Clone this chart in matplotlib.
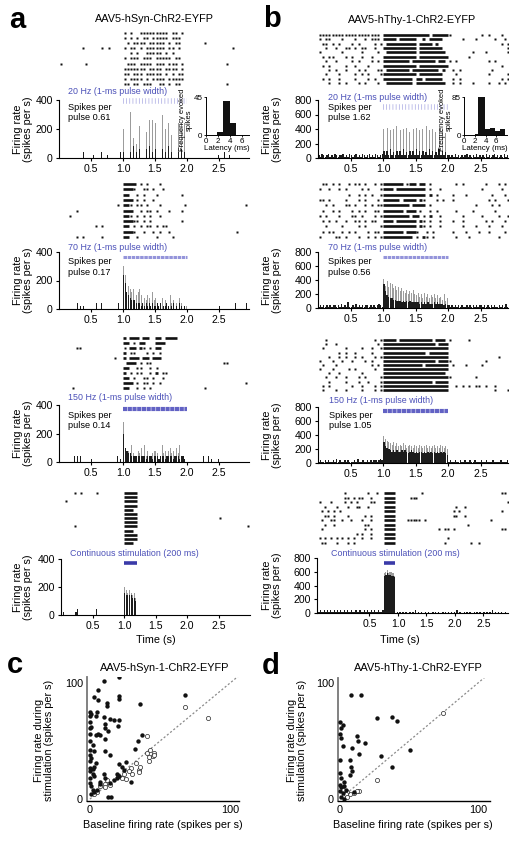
import matplotlib
matplotlib.use("Agg")
import matplotlib.pyplot as plt

plt.rcParams['font.family'] = ['Liberation Sans', 'DejaVu Sans']
plt.rcParams['lines.scale_dashes'] = False

# ======================= DATA =======================
# Raster rows: "pre|stim|post" segments, 0.05-s bins ('*' = spike, '=' = dense burst, '.' = none)
raster_a1 = [
    ".......... ..........|*.*..***** ****.**.*.|.......... ..........",
    ".......... ..........|*.*.*.**.* ****.***..|.......... ..........",
    ".......... ..........|.*.****.** ***.*.**..|.....*.... ..........",
    ".......*.. ...*.*....|*.**.*.*** ***.**.*..|.......... ....*.....",
    ".......... ..........|..*.*..*** **.*.*....|.......... ..........",
    ".......... ..........|*.***.***. *****.**..|.......... ..........",
    "*.......*. ..........|.***.****. ***.***.*.|.......... ..*.......",
    ".......... ..........|*******.** **.****.*.|.......... ..........",
    ".......... ..........|**.***.*** **.*.*.**.|.......... ..........",
    ".......... ..........|*.****.*.* ***.*****.|.......... ..........",
    ".......... ..........|**.**.***. .**.*.**..|.......... ..*.......",
]
raster_a2 = [
    ".......... ..........|====.*.*.. .*........|.......... ..........",
    ".......... ..........|===*..**.* ..*.......|.......... ..........",
    ".......... ..........|==..*.*... *.......*.|.......... ..........",
    ".......... ..........|===.*.*..* ..........|.......... ..........",
    ".......... ........*.|==*.**.*.. .*.......*|.......... ........*.",
    ".....*.... ..........|===..*.**. *...*...*.|.......... ..........",
    "...*...... ..........|==*.*.*.*. .*........|.......... ..........",
    ".......... ..........|===**.*.*. ........*.|.......... ..........",
    ".......... .*.*......|==.*.*.**. *.**......|.......... ..........",
    ".......... ..........|===*..*..* .*..*.....|.......... .....*....",
    ".....*.*.. ...*......|==..*..... *....*....|.......... ..........",
]
raster_a3 = [
    ".......... ..........|=.===.==.. ==.====...|.......... ..........",
    ".......... ..........|==.*.==... ===.......|.......... ..........",
    ".....**... ..........|*.==.=*.*. ==........|.......... ..........",
    ".......... ..........|=.**...*.* .*........|.......... ..........",
    ".......... .......*..|=.===.==.= ==........|.......... ..........",
    ".......... ..........|.===.*.**. ..........|.......... .**.......",
    ".......... ..........|==..**..*. *.........|.......... ..........",
    ".......... ..........|=.*.**..*. =.**......|.......... ..........",
    ".......... ..........|==.*..**.* ..*.......|.......... ..........",
    ".......... ..........|===.*.**.* .*........|.......... ........*.",
    "....*..... ..........|==..*.*.*. ..........|.....*.... ..........",
]
raster_a4 = [
    "....*.*... .*........|====|.......... .......... .......... ......",
    ".......... ..........|====|.......... .......... .......... ......",
    ".*........ ..........|====|.......... .......... .......... ......",
    ".......... ..........|====|.......... .......... .......... ......",
    ".......... ..........|===.|.......... .......... .......... ......",
    ".......... ..........|====|.......... .......... .......... ......",
    ".......... ..........|====|.......... .......... ......*... ......",
    ".......... ..........|====|.......... .......... .......... ......",
    "....*..... ..........|====|.......... .......... .......... .....*",
    ".......... ..........|===.|.......... .......... .......... ......",
    ".......... ..........|====|.......... .......... .......... ......",
    ".......... ..........|====|.......... .......... .......... ......",
    ".......... ..........|===.|.......... .......... .......... ......",
]
raster_b1 = [
    "********** *********.|========== ====.=====|*......... *.*...*...",
    "*.**...*.. .*..*.***.|====.===== ..=.====..|....*...*. ....*..*..",
    ".**.*.*... *.*....*.*|.========= .====.=...|.......... ......*.**",
    "..*..*..** .*.**..*..|========== .=======..|.......... ........*.",
    "*......*.. ...*....*.|.========= .========.|.......*.. .*......*.",
    ".*.**...*. *..*..*...|========== .=========|......*... ..........",
    "..*..*.... *.*...*.*.|========.= ======.==.|*.*....... ..*.*.....",
    ".*.*....*. .*...*....|========== .=========|.......... ......*..*",
    "...*.*..*. ..*.*...**|.=======.= =======.=.|.*.*...... ...*......",
    "..*...*... .*.*.*...*|========== .=======..|..*....... ..*.....*.",
    ".*.*..*... .*...*.*..|=========. ==.=====..|.*.*...... ......*.*.",
    "...*..*.*. ..*.*...*.|.========. =========.|.*.*...*.. ..*..*.*..",
]
raster_b2 = [
    ".**.*.*..* .**.*..*.*|======.*== .==.*.....|..*.*..... .*...*.*.*",
    "*..*..*.*. ...*.*...*|===.====== ===.*..*..|.......... *.....*...",
    ".........* ..*.*.*..*|========== ===.=.*...|.*...*.... ...*...*.*",
    "**.*....*. ..*.*...*.|=====.==== .=*...*.*.|.*........ ..*.*...**",
    "..*.*...** .*..*.*.**|========.= ===.*.....|........*. ...*.*....",
    ".*..*.*... *.*.*..**.|======.=== .*..*.*...|..*....*.. ....*.....",
    "*.*...*... **.*...*.*|========.= =.*.=..*..|....*..... *....*..*.",
    ".*.*.*..*. .**.*.**..|===.====== .=*.*..*..|.*..*..... .*.*...*..",
    "..*....*.. ..*.*....*|==========.=*.*..*...|....*...*. ..*...*...",
    ".*.**..*.* .*...*.**.|======.=== *..*.*....|.*...*...* ..*....*..",
    "*....**.*. ..*..*.*.*|=========. *.=*.*....|..*...*... .....*...*",
]
raster_b3 = [
    "..*....... .......*.*|====.===== =====.===.|*.....*... ..........",
    "..*..*.... ........*.|========== ======.===|.......... ..........",
    ".*......*. ...*..*..*|========== ==========|.......... ..........",
    "......*.*. .*....*...|========== ===.======|.......... ..........",
    "...*..*.*. .*.*...*.*|========== ==========|.......... .....*....",
    "*...*..*.. *...*.*...|========== ======.===|*......... .*........",
    ".*...*.... ......*.*.|========== ==.=======|.*...*.... *.........",
    "*...*....* .*.....*..|========== ==========|.......... ..........",
    "...*..*... ...*......|========== =========.|.......... ..........",
    "..*..*..*. ..*.*....*|========== ==========|*.......*. ..........",
    "...*....*. ..*..*...*|========== =====.====|.......... ..........",
    ".*.*...... *..*...*.*|========== ==========|..*.*.*.** .*..*.....",
    ".*...*..*. ...*...*.*|========== ==========|.......... ....*...*.",
]
raster_b4 = [
    ".......... *.......*. .*..|====|.........* .......... .......... .......**.",
    ".......... **.*.**..* ....|====|.....***.. .......... .......... ..........",
    ".*...*.... *.*.*....* *...|====|.......... .......... .......... .........*",
    "...*...*.. .*..**..*. ....|====|.......... .......... .*..*..... ..........",
    "..*.*.*.*. .......... ....|====|.......... .......... *.*....... .......*..",
    "...**.*... .*.....*.* ....|====|.......... .......... **..*..... ..........",
    "..*..**..* ..*...*..* ....|====|....*****. *......... .......... ...*......",
    "...*..*... .......**. ....|====|.......... .......... .....*.... ..........",
    "..*....... .......*.* ....|====|.......... .....*.**. *......... .......**.",
    ".......... ....*.*..* ....|====|.......... .......... .......... ..........",
    ".*.*.*.*.* .*.*..*..* ....|====|.......... ........*. .......... ..........",
    "..**...*.. .*.*...... ....|====|.......... .......*.. ......*..* ..........",
]

# PSTHs: "pre|stim|post", 0.025-s bins, base-36 digit x 20 spikes per s
hist_a1_grey = "|a0e0g07050 b0a090d0d0 c0d0f0a0c0 80b0c0c0c0|"
hist_a1_black = ("0000000000 0000020000 0100002000 1000000020|"
                 "2030204020 3020304020 3020302040 2030203020|"
                 "0000000000 0010000001 0002001000 0000000000")
hist_a2_grey = "|fca8767a56 7564354363 4032403205 2302042301|"
hist_a2_black = ("0000000200 0201010000 0012002000 0000000200|"
                 "c965433322 2121212121 1212011210 1201021010|"
                 "0000000000 0000000000 1000000000 2000000200")
hist_a3_grey = "|e574363524 3536242534 4352634245 3425362410|"
hist_a3_black = ("0000000002 0202000000 1000000000 0000002010|"
                 "a543322222 2222122212 2212221222 2122212210|"
                 "0000000000 2002010001 0000000000 0000000000")
hist_a4_grey = "|a9898786|"
hist_a4_black = ("0100000001 2000000000 0020000000 0000000000|"
                 "87777665|")
hist_b1_grey = "|k0l0j0k0m0 j0k0l0i0k0 l0j0k0m0j0 k0i0l0j0h0|"
hist_b1_black = ("2132123121 3212231213 2123121321 2312132123|"
                 "5252624252 5262425252 6252524262 5242625242|"
                 "2121312121 2312121312 1213121231 2121312121")
hist_b2_grey = "|lgjfihegdf cecbdacbda 9b8a7b8a79 8a79786a57|"
hist_b2_black = ("1212121212 2121312141 1213121212 2121212321|"
                 "hc98776655 5454545444 4434343433 3434333232|"
                 "2121212121 1212121212 2121212121 1212131212")
hist_b3_grey = "|jhgfedfcec dcedbcdcbd cbdcbcdbcb cdbcbdcbca|"
hist_b3_black = ("1211212112 1312112121 1121311211 2121221232|"
                 "fcba989898 8989878987 8788787878 7878787876|"
                 "1211211211 2112112111 2112111211 1121112111")
hist_b4_grey = "|tuvtuutr|"
hist_b4_black = ("1212112121 2112121211 2121121121 1211212112 12112112|"
                 "rstssrrq|"
                 "0101010100 1010201010 0101001010 1001010101 "
                 "0102010010 1010010101 0010101020 1010100101")

stim_labels_a = ["20 Hz (1-ms pulse width)", "70 Hz (1-ms pulse width)",
                 "150 Hz (1-ms pulse width)", "Continuous stimulation (200 ms)"]
stim_labels_b = stim_labels_a
spikes_per_pulse_a = ["0.61", "0.17", "0.14", None]
spikes_per_pulse_b = ["1.62", "0.56", "1.05", None]
stim_windows_a = [(1.0, 2.0), (1.0, 2.0), (1.0, 2.0), (1.0, 1.2)]
stim_windows_b = [(1.0, 2.0), (1.0, 2.0), (1.0, 2.0), (0.75, 0.95)]

# Latency insets (ms): bar left edges, widths, counts
inset_a_left = [1.9, 2.8, 4.1]
inset_a_width = [0.9, 1.3, 0.9]
inset_a_count = [4, 40, 14]
inset_b_left = [2.0, 2.5, 3.9, 4.8, 5.75, 6.7]
inset_b_width = [0.5, 1.4, 0.9, 0.95, 0.95, 0.9]
inset_b_count = [3, 88, 13, 15, 10, 13]

# Scatter c (hSyn): filled = significant, open = not significant
c_fill_x = [10, 21, 6, 3, 6, 12, 12, 21, 21, 36, 68, 0, 1, 5, 0, 4, 10, 14, 17, 21, 20,
            0, 1, 0, 0, 4, 7, 11, 11, 13, 6, 11, 34, 37, 0, 3, 0, 11, 14, 32, 0, 2,
            0, 2, 3, 0, 2, 3, 0, 21, 23, 26, 24, 19, 21, 19, 17, 10, 11, 14, 29,
            0, 1, 2, 1, 3, 13, 15, 7, 5, 7, 0, 1, 4]
c_fill_y = [102, 105, 94, 88, 85, 83, 80, 89, 86, 82, 90, 75, 73, 75, 72, 72, 71, 69, 68, 68, 63,
            66, 62, 61, 56, 55, 55, 65, 61, 59, 56, 52, 50, 55, 42, 41, 38, 41, 38, 43, 50, 47,
            27, 26, 28, 24, 22, 20, 18, 30, 28, 32, 25, 22, 20, 18, 16, 22, 18, 14, 15,
            14, 11, 8, 4, 6, 2, 2, 15, 8, 13, 33, 35, 31]
c_open_x = [68, 84, 41, 41, 43, 46, 42, 45, 46, 42, 33, 35, 35, 36, 29, 30, 24, 23, 26,
            12, 11, 14, 11, 7, 5, 3, 28, 20]
c_open_y = [79, 70, 54, 40, 42, 40, 36, 37, 38, 33, 31, 25, 23, 28, 27, 22, 22, 18, 17,
            16, 13, 12, 10, 11, 6, 4, 24, 20]
# Scatter d (hThy-1)
d_fill_x = [8, 15, 27, 38, 41, 0, 2, 1, 0, 1, 12, 13, 18, 2, 9, 51, 14, 30, 0, 7, 8, 9, 7,
            38, 0, 1, 3, 0, 1, 3, 0, 2, 4, 1, 10, 3]
d_fill_y = [90, 90, 70, 71, 67, 66, 64, 61, 56, 53, 54, 50, 48, 46, 44, 42, 39, 37, 34, 34,
            28, 24, 21, 28, 22, 18, 15, 12, 10, 11, 7, 5, 8, 2, 6, 0]
d_open_x = [75, 27, 14, 10, 7, 5, 3, 2, 4, 12, 5]
d_open_y = [74, 16, 7, 5, 4, 6, 3, 8, 4, 7, 2]

# ======================= FIGURE =======================
W, H = 518, 841
fig = plt.figure(figsize=(W / 100, H / 100), dpi=100)
BLUE = '#4b50b8'


def px_axes(x0, y0, x1, y1):
    return fig.add_axes([x0 / W, 1 - y1 / H, (x1 - x0) / W, (y1 - y0) / H])


def ftext(x, y, s, **kw):
    fig.text(x / W, 1 - y / H, s, **kw)


def draw_raster(ax, rows, starts, bw=0.05):
    for r, row in enumerate(rows):
        for seg, t0 in zip(row.split('|'), starts):
            s = seg.replace(' ', '')
            dots = [t0 + (i + 0.5) * bw for i, c in enumerate(s) if c == '*']
            if dots:
                ax.plot(dots, [r] * len(dots), 's', ms=1.8, color='#111111', mec='none')
            i = 0
            while i < len(s):
                if s[i] == '=':
                    j = i
                    while j < len(s) and s[j] == '=':
                        j += 1
                    ax.plot([t0 + i * bw, t0 + j * bw], [r, r], color='#111111', lw=1.9,
                            solid_capstyle='butt')
                    i = j
                else:
                    i += 1
    ax.set_ylim(len(rows) - 0.5, -0.5)
    ax.axis('off')


def draw_hist(ax, spec, starts, color, frac, bw=0.025, scale=20):
    for seg, t0 in zip(spec.split('|'), starts):
        s = seg.replace(' ', '')
        if not s:
            continue
        x = [t0 + (i + 0.5) * bw for i in range(len(s))]
        h = [int(c, 36) * scale for c in s]
        ax.bar(x, h, width=bw * frac, color=color, linewidth=0)


def style_hist(ax, xlim, ymax, yticks):
    ax.set_xlim(*xlim)
    ax.set_ylim(0, ymax)
    for sp in ['top', 'right']:
        ax.spines[sp].set_visible(False)
    for sp in ['left', 'bottom']:
        ax.spines[sp].set_linewidth(0.8)
    ax.set_yticks(yticks)
    ax.set_xticks([0.5, 1.0, 1.5, 2.0, 2.5])
    ax.set_xticklabels(['0.5', '1.0', '1.5', '2.0', '2.5'])
    ax.tick_params(labelsize=7.6, length=2.5, width=0.8, pad=2)


def draw_stim(ax, win, y, kind):
    if kind == 20:
        ax.plot(win, [y, y], color='#a8a8e2', lw=4, dashes=(0.5, 1.8), clip_on=False)
    elif kind == 70:
        ax.plot(win, [y, y], color='#9494da', lw=2.2, dashes=(2.5, 0.5), clip_on=False)
    elif kind == 150:
        ax.plot(win, [y, y], color='#6262c4', lw=3.0, dashes=(3, 0.4), clip_on=False)
    else:
        ax.plot(win, [y, y], color='#3a3aa8', lw=2.6, solid_capstyle='butt', clip_on=False)


panels = [
    # column a
    dict(raster=raster_a1, rst=[0, 1, 2], rrows=(33, 84), grey=hist_a1_grey, black=hist_a1_black,
         hst=[0, 1, 2], box=(59, 100, 249, 158), xlim=(0, 2.97), ymax=400, yt=[0, 200, 400],
         label=stim_labels_a[0], ly=92, spp=spikes_per_pulse_a[0], sy=107, win=stim_windows_a[0],
         kind=20, stim_y=392, tx=68, frac=(0.5, 0.5)),
    dict(raster=raster_a2, rst=[0, 1, 2], rrows=(184, 237), grey=hist_a2_grey, black=hist_a2_black,
         hst=[0, 1, 2], box=(59, 252, 249, 309), xlim=(0, 2.97), ymax=400, yt=[0, 200, 400],
         label=stim_labels_a[1], ly=247, spp=spikes_per_pulse_a[1], sy=262, win=stim_windows_a[1],
         kind=70, stim_y=365, tx=68, frac=(0.5, 0.6)),
    dict(raster=raster_a3, rst=[0, 1, 2], rrows=(338, 388), grey=hist_a3_grey, black=hist_a3_black,
         hst=[0, 1, 2], box=(59, 405, 249, 462), xlim=(0, 2.97), ymax=400, yt=[0, 200, 400],
         label=stim_labels_a[2], ly=398, spp=spikes_per_pulse_a[2], sy=415, win=stim_windows_a[2],
         kind=150, stim_y=372, tx=68, frac=(0.5, 0.7)),
    dict(raster=raster_a4, rst=[0, 1.0, 1.2], rrows=(493, 543), grey=hist_a4_grey, black=hist_a4_black,
         hst=[0, 1.0, 1.2], box=(61, 559, 250, 615), xlim=(0, 3.0), ymax=400, yt=[0, 200, 400],
         label=stim_labels_a[3], ly=553, spp=None, sy=0, win=stim_windows_a[3],
         kind=0, stim_y=375, tx=70, frac=(0.6, 0.7)),
    # column b
    dict(raster=raster_b1, rst=[0, 1, 2], rrows=(35, 83), grey=hist_b1_grey, black=hist_b1_black,
         hst=[0, 1, 2], box=(318, 100, 508, 158), xlim=(0, 2.92), ymax=800,
         yt=[0, 200, 400, 600, 800], label=stim_labels_b[0], ly=97, spp=spikes_per_pulse_b[0], sy=107,
         win=stim_windows_b[0], kind=20, stim_y=703, tx=328, frac=(0.55, 0.9)),
    dict(raster=raster_b2, rst=[0, 1, 2], rrows=(184, 237), grey=hist_b2_grey, black=hist_b2_black,
         hst=[0, 1, 2], box=(318, 252, 508, 308), xlim=(0, 2.92), ymax=800,
         yt=[0, 200, 400, 600, 800], label=stim_labels_b[1], ly=248, spp=spikes_per_pulse_b[1], sy=262,
         win=stim_windows_b[1], kind=70, stim_y=728, tx=328, frac=(0.6, 0.9)),
    dict(raster=raster_b3, rst=[0, 1, 2], rrows=(340, 390), grey=hist_b3_grey, black=hist_b3_black,
         hst=[0, 1, 2], box=(318, 407, 508, 463), xlim=(0, 2.92), ymax=800,
         yt=[0, 200, 400, 600, 800], label=stim_labels_b[2], ly=400, spp=spikes_per_pulse_b[2], sy=415,
         win=stim_windows_b[2], kind=150, stim_y=743, tx=329, frac=(0.6, 0.95)),
    dict(raster=raster_b4, rst=[-0.45, 0.75, 0.95], rrows=(493, 543), grey=hist_b4_grey,
         black=hist_b4_black, hst=[-0.45, 0.75, 0.95], box=(317, 558, 508, 613), xlim=(-0.42, 2.93),
         ymax=800, yt=[0, 200, 400, 600, 800], label=stim_labels_b[3], ly=553, spp=None, sy=0,
         win=stim_windows_b[3], kind=0, stim_y=727, tx=331, frac=(0.9, 1.0)),
]

for p in panels:
    x0, y0, x1, y1 = p['box']
    n = len(p['raster'])
    ra, rb = p['rrows']
    sp = (rb - ra) / (n - 1)
    axr = px_axes(x0, ra - sp / 2, x1, rb + sp / 2)
    axr.set_xlim(*p['xlim'])
    draw_raster(axr, p['raster'], p['rst'])

    ax = px_axes(x0, y0, x1, y1)
    draw_hist(ax, p['grey'], p['hst'], '#9c9c9c', p['frac'][0])
    draw_hist(ax, p['black'], p['hst'], '#1c1c1c', p['frac'][1])
    style_hist(ax, p['xlim'], p['ymax'], p['yt'])
    draw_stim(ax, p['win'], p['stim_y'], p['kind'])

    ftext(p['tx'], p['ly'], p['label'], color=BLUE, fontsize=6.4, va='center', ha='left')
    if p['spp'] is not None:
        ftext(p['tx'], p['sy'], 'Spikes per', fontsize=6.6, va='center', ha='left')
        ftext(p['tx'], p['sy'] + 10.5, 'pulse ' + p['spp'], fontsize=6.6, va='center', ha='left')
    ylx = 23 if x0 < 200 else 272
    ftext(ylx, (y0 + y1) / 2, 'Firing rate\n(spikes per s)', rotation=90, fontsize=7.8,
          ha='center', va='center', linespacing=1.05)

# Time labels
ftext(156, 640, 'Time (s)', fontsize=7.8, ha='center', va='center')
ftext(400, 640, 'Time (s)', fontsize=7.8, ha='center', va='center')

# Insets
for (xa, xb, xmax, ymax, lefts, widths, counts, ylx, xlx) in [
        (205.7, 249, 7.2, 45, inset_a_left, inset_a_width, inset_a_count, 186, 227),
        (464.3, 507, 8.0, 85, inset_b_left, inset_b_width, inset_b_count, 446, 485)]:
    axi = px_axes(xa, 97, xb, 135)
    axi.bar(lefts, counts, width=widths, align='edge', color='#111111', linewidth=0)
    axi.set_xlim(0, xmax)
    axi.set_ylim(0, ymax)
    for s in ['top', 'right']:
        axi.spines[s].set_visible(False)
    for s in ['left', 'bottom']:
        axi.spines[s].set_linewidth(0.7)
    axi.set_xticks([0, 2, 4, 6])
    axi.set_yticks([0, ymax])
    axi.tick_params(labelsize=5.8, length=1.6, width=0.6, pad=0.8)
    axi.set_facecolor('none')
    ftext(ylx, 120, 'Frequency evoked\nspikes', rotation=90, fontsize=5.4, ha='center',
          va='center', linespacing=0.95)
    ftext(xlx, 149, 'Latency (ms)', fontsize=5.7, ha='center', va='center')

# Titles and panel letters
ftext(154, 19, 'AAV5-hSyn-ChR2-EYFP', fontsize=7.8, ha='center', va='center')
ftext(412, 20, 'AAV5-hThy-1-ChR2-EYFP', fontsize=7.8, ha='center', va='center')
ftext(17, 20, 'a', fontsize=21, fontweight='bold', ha='center', va='center')
ftext(272, 19, 'b', fontsize=21, fontweight='bold', ha='center', va='center')
ftext(15, 665, 'c', fontsize=21, fontweight='bold', ha='center', va='center')
ftext(271, 666, 'd', fontsize=21, fontweight='bold', ha='center', va='center')

# Scatter panels
for (box, xlim, ylim, fx, fy, ox, oy, title, tcx, ylx, xlx) in [
        ((87, 677, 239, 801), (-2.1, 106.4), (-1.7, 105.2), c_fill_x, c_fill_y, c_open_x, c_open_y,
         'AAV5-hSyn-1-ChR2-EYFP', 165, 44, 163),
        ((338, 678, 490, 801), (-1.45, 108.7), (-1.7, 104.3), d_fill_x, d_fill_y, d_open_x, d_open_y,
         'AAV5-hThy-1-ChR2-EYFP', 418, 297, 413)]:
    axs = px_axes(*box)
    axs.plot([0, 108], [0, 108], color='#8a8a8a', lw=0.9, dashes=(1.5, 1.5), zorder=1)
    axs.scatter(fx, fy, s=10, color='#111111', linewidths=0, zorder=3)
    axs.scatter(ox, oy, s=9, facecolors='white', edgecolors='#222222', linewidths=0.5, zorder=2)
    axs.set_xlim(*xlim)
    axs.set_ylim(*ylim)
    for s in ['top', 'right']:
        axs.spines[s].set_visible(False)
    axs.spines['left'].set_color('#777777')
    axs.spines['left'].set_linewidth(1.3)
    axs.spines['bottom'].set_linewidth(1.0)
    axs.set_xticks([0, 100])
    axs.set_yticks([0, 100])
    axs.tick_params(labelsize=7.8, length=0, pad=3)
    ftext(tcx, 668, title, fontsize=7.9, ha='center', va='center')
    ftext(ylx, 740, 'Firing rate during\nstimulation (spikes per s)', rotation=90, fontsize=7.8,
          ha='center', va='center', linespacing=1.1)
    ftext(xlx, 825, 'Baseline firing rate (spikes per s)', fontsize=7.8, ha='center', va='center')

fig.savefig('out.png', dpi=100, facecolor='white')
